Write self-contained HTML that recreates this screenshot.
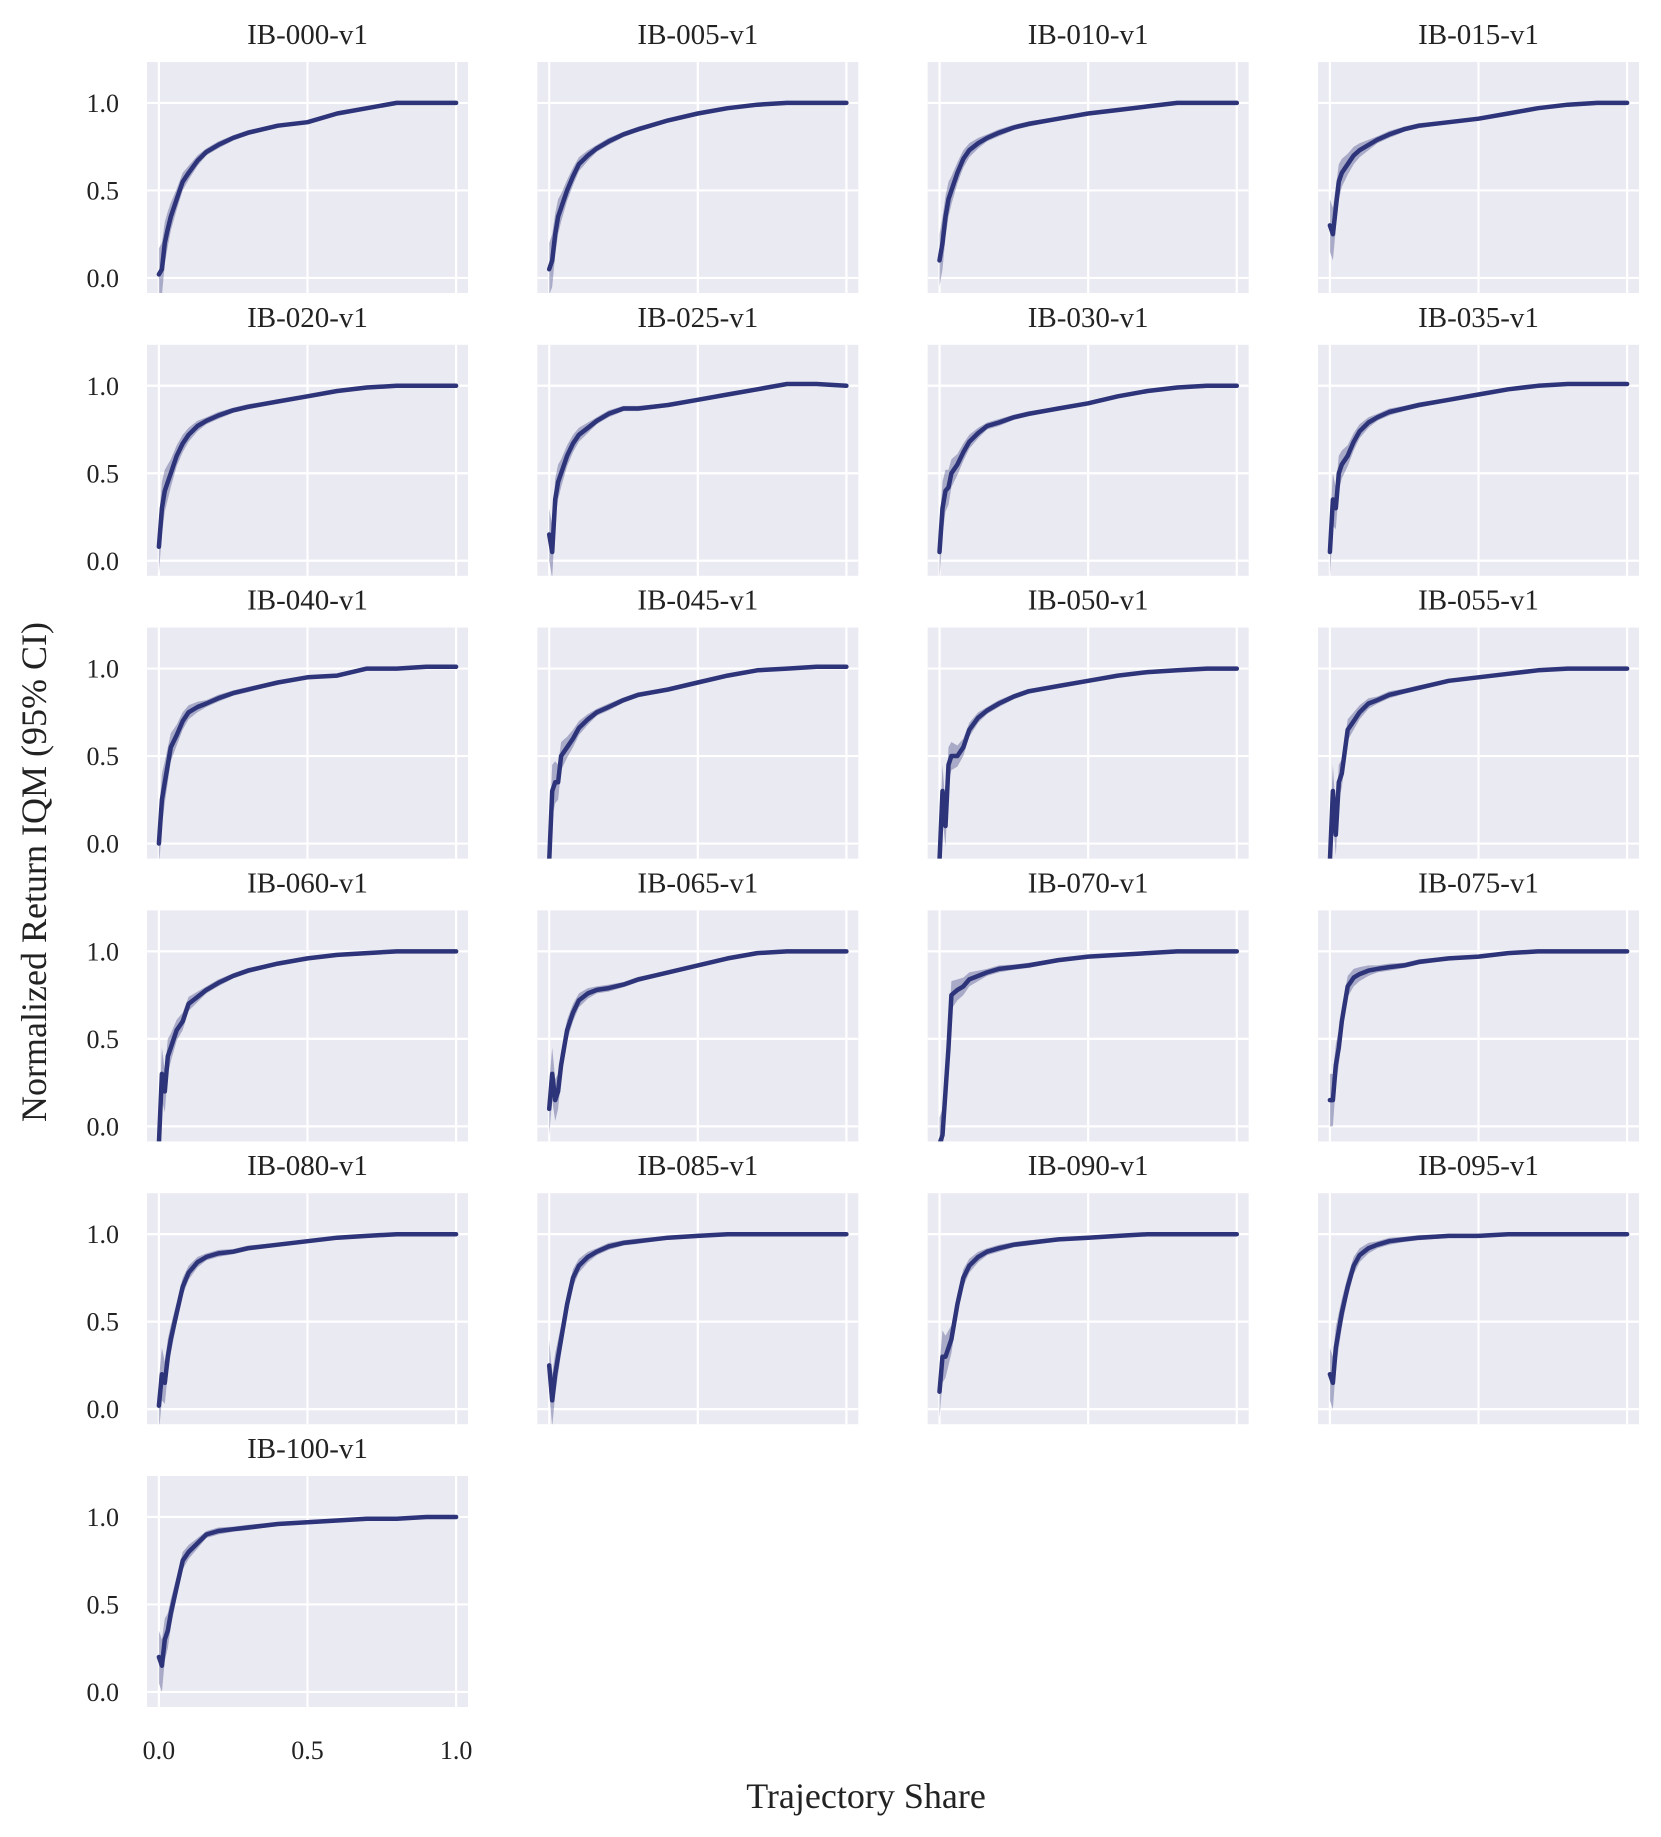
<!DOCTYPE html>
<html><head><meta charset="utf-8">
<style>
html,body{margin:0;padding:0;background:#fff;}
svg{display:block;font-family:"Liberation Serif",serif;}
</style></head>
<body>
<svg id="fig" width="1661" height="1837" viewBox="0 0 1661 1837" xmlns="http://www.w3.org/2000/svg">
<text x="866" y="1808" font-size="36" text-anchor="middle" fill="#222">Trajectory Share</text>
<text x="0" y="0" font-size="36" text-anchor="middle" fill="#222" transform="translate(46,872) rotate(-90)">Normalized Return IQM (95% CI)</text>
</svg>
<script>
const xs = [0,0.01,0.02,0.03,0.04,0.06,0.08,0.1,0.13,0.16,0.2,0.25,0.3,0.4,0.5,0.6,0.7,0.8,0.9,1.0];
const ciHalf = [0.15,0.15,0.12,0.1,0.08,0.06,0.05,0.04,0.03,0.02,0.02,0.015,0.015,0.01,0.01,0.01,0.01,0.01,0.01,0.01];
const titles = ["IB-000-v1","IB-005-v1","IB-010-v1","IB-015-v1","IB-020-v1","IB-025-v1","IB-030-v1","IB-035-v1","IB-040-v1","IB-045-v1","IB-050-v1","IB-055-v1","IB-060-v1","IB-065-v1","IB-070-v1","IB-075-v1","IB-080-v1","IB-085-v1","IB-090-v1","IB-095-v1","IB-100-v1"];
const s000 = [0.02,0.05,0.2,0.28,0.35,0.45,0.55,0.6,0.67,0.72,0.76,0.8,0.83,0.87,0.89,0.94,0.97,1.0,1.0,1.0];
const s005 = [0.05,0.1,0.25,0.35,0.4,0.5,0.58,0.65,0.7,0.74,0.78,0.82,0.85,0.9,0.94,0.97,0.99,1.0,1.0,1.0];
const s010 = [0.1,0.2,0.35,0.45,0.5,0.6,0.68,0.73,0.77,0.8,0.83,0.86,0.88,0.91,0.94,0.96,0.98,1.0,1.0,1.0];
const s015 = [0.3,0.25,0.4,0.55,0.6,0.65,0.7,0.73,0.76,0.79,0.82,0.85,0.87,0.89,0.91,0.94,0.97,0.99,1.0,1.0];
const s020 = [0.08,0.3,0.4,0.45,0.5,0.6,0.67,0.72,0.77,0.8,0.83,0.86,0.88,0.91,0.94,0.97,0.99,1.0,1.0,1.0];
const s025 = [0.15,0.05,0.35,0.45,0.5,0.6,0.67,0.72,0.76,0.8,0.84,0.87,0.87,0.89,0.92,0.95,0.98,1.01,1.01,1.0];
const s030 = [0.05,0.3,0.4,0.42,0.5,0.55,0.62,0.68,0.73,0.77,0.79,0.82,0.84,0.87,0.9,0.94,0.97,0.99,1.0,1.0];
const s035 = [0.05,0.35,0.3,0.5,0.55,0.6,0.68,0.74,0.79,0.82,0.85,0.87,0.89,0.92,0.95,0.98,1.0,1.01,1.01,1.01];
const s040 = [0.0,0.25,0.35,0.45,0.55,0.62,0.7,0.75,0.78,0.8,0.83,0.86,0.88,0.92,0.95,0.96,1.0,1.0,1.01,1.01];
const s045 = [-0.1,0.3,0.35,0.35,0.5,0.55,0.6,0.66,0.71,0.75,0.78,0.82,0.85,0.88,0.92,0.96,0.99,1.0,1.01,1.01];
const s050 = [-0.1,0.3,0.1,0.45,0.5,0.5,0.55,0.65,0.72,0.76,0.8,0.84,0.87,0.9,0.93,0.96,0.98,0.99,1.0,1.0];
const s055 = [-0.1,0.3,0.05,0.35,0.4,0.65,0.7,0.75,0.8,0.82,0.85,0.87,0.89,0.93,0.95,0.97,0.99,1.0,1.0,1.0];
const s060 = [-0.1,0.3,0.2,0.4,0.45,0.55,0.6,0.7,0.74,0.78,0.82,0.86,0.89,0.93,0.96,0.98,0.99,1.0,1.0,1.0];
const s065 = [0.1,0.3,0.15,0.2,0.35,0.55,0.65,0.72,0.76,0.78,0.79,0.81,0.84,0.88,0.92,0.96,0.99,1.0,1.0,1.0];
const s070 = [-0.1,-0.05,0.2,0.45,0.75,0.78,0.8,0.84,0.86,0.88,0.9,0.91,0.92,0.95,0.97,0.98,0.99,1.0,1.0,1.0];
const s075 = [0.15,0.15,0.35,0.45,0.6,0.8,0.85,0.87,0.89,0.9,0.91,0.92,0.94,0.96,0.97,0.99,1.0,1.0,1.0,1.0];
const s080 = [0.02,0.2,0.15,0.3,0.4,0.55,0.7,0.78,0.84,0.87,0.89,0.9,0.92,0.94,0.96,0.98,0.99,1.0,1.0,1.0];
const s085 = [0.25,0.05,0.2,0.3,0.4,0.6,0.75,0.82,0.87,0.9,0.93,0.95,0.96,0.98,0.99,1.0,1.0,1.0,1.0,1.0];
const s090 = [0.1,0.3,0.3,0.35,0.4,0.6,0.75,0.82,0.87,0.9,0.92,0.94,0.95,0.97,0.98,0.99,1.0,1.0,1.0,1.0];
const s095 = [0.2,0.15,0.35,0.45,0.55,0.7,0.82,0.88,0.92,0.94,0.96,0.97,0.98,0.99,0.99,1.0,1.0,1.0,1.0,1.0];
const s100 = [0.2,0.15,0.3,0.35,0.45,0.6,0.75,0.8,0.85,0.9,0.92,0.93,0.94,0.96,0.97,0.98,0.99,0.99,1.0,1.0];
const series = [s000,s005,s010,s015,s020,s025,s030,s035,s040,s045,s050,s055,s060,s065,s070,s075,s080,s085,s090,s095,s100];
const yTicks = [0,0.5,1.0];
const yTickLabels = ["0.0","0.5","1.0"];
const xTicks = [0,0.5,1.0];
const xTickLabels = ["0.0","0.5","1.0"];

const NS = "http://www.w3.org/2000/svg";
const svg = document.getElementById("fig");
const PW = 321, PH = 231, X0 = 147, Y0 = 62, DX = 390.33, DY = 282.8;
const XMIN = -0.04, XMAX = 1.04, YMIN = -0.086, YMAX = 1.234;
const LINE = "#2d3479";
function mk(tag, attrs){ const e = document.createElementNS(NS, tag); for (const k in attrs) e.setAttribute(k, attrs[k]); return e; }

series.forEach((vals, i) => {
  const col = i % 4, row = Math.floor(i / 4);
  const left = X0 + col * DX, top = Y0 + row * DY;
  const sx = v => left + (v - XMIN) / (XMAX - XMIN) * PW;
  const sy = v => top + (YMAX - v) / (YMAX - YMIN) * PH;
  const g = mk("g", {});
  
  
  svg.appendChild(g);
  const cp = mk("clipPath", {id: "clip" + i});
  cp.appendChild(mk("rect", {x: left, y: top, width: PW, height: PH}));
  g.appendChild(cp);
  const bg = mk("rect", {x: left, y: top, width: PW, height: PH, fill: "#eaeaf2"});
  
  
  g.appendChild(bg);
  xTicks.forEach(t => {
    const l = mk("line", {x1: sx(t), x2: sx(t), y1: top, y2: top + PH, stroke: "#fff", "stroke-width": 2.2});
    
    
    g.appendChild(l);
  });
  yTicks.forEach((t, k) => {
    const l = mk("line", {x1: left, x2: left + PW, y1: sy(t), y2: sy(t), stroke: "#fff", "stroke-width": 2.2});
    
    
    g.appendChild(l);
    if (col === 0) {
      const tx = mk("text", {x: left - 28, y: sy(t) + 9, "font-size": 26, "text-anchor": "end", fill: "#222"});
      tx.textContent = yTickLabels[k];
      
      
      g.appendChild(tx);
    }
  });
  const title = mk("text", {x: left + PW / 2, y: top - 18, "font-size": 29, "text-anchor": "middle", fill: "#222"});
  title.textContent = titles[i];
  
  
  g.appendChild(title);
  let up = vals.map((v, k) => sx(xs[k]).toFixed(1) + "," + sy(v + ciHalf[k]).toFixed(1));
  let lo = vals.map((v, k) => sx(xs[k]).toFixed(1) + "," + sy(v - ciHalf[k]).toFixed(1)).reverse();
  const band = mk("polygon", {points: up.concat(lo).join(" "), fill: LINE, "fill-opacity": 0.35, "clip-path": "url(#clip" + i + ")"});
  
  
  g.appendChild(band);
  const pts = vals.map((v, k) => sx(xs[k]).toFixed(1) + "," + sy(v).toFixed(1)).join(" ");
  const line = mk("polyline", {points: pts, fill: "none", stroke: LINE, "stroke-width": 4.5, "stroke-linejoin": "round", "stroke-linecap": "round", "clip-path": "url(#clip" + i + ")"});
  
  
  g.appendChild(line);
  if (i === series.length - 1) {
    xTicks.forEach((t, k) => {
      const tx = mk("text", {x: sx(t), y: 1759, "font-size": 26, "text-anchor": "middle", fill: "#222"});
      tx.textContent = xTickLabels[k];
      
      
      g.appendChild(tx);
    });
  }
});
</script>
</body></html>
